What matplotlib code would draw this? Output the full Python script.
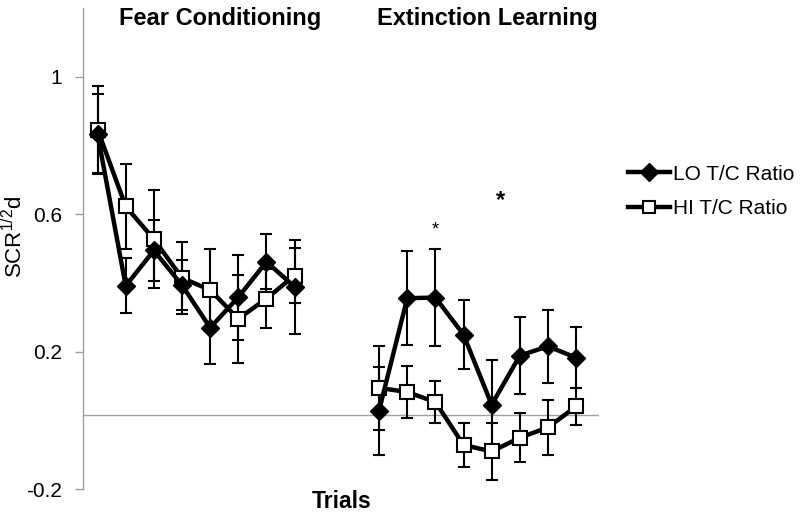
import matplotlib
matplotlib.use("Agg")
import matplotlib.pyplot as plt
from matplotlib.lines import Line2D

plt.rcParams['font.family'] = ['Liberation Sans', 'DejaVu Sans']
plt.rcParams['mathtext.fontset'] = 'custom'
plt.rcParams['mathtext.rm'] = 'Liberation Sans'
plt.rcParams['mathtext.it'] = 'Liberation Sans'
plt.rcParams['mathtext.default'] = 'regular'

# ---- data ----
phases = ["Fear Conditioning", "Extinction Learning"]
trials = [1, 2, 3, 4, 5, 6, 7, 8]
gap_categories = 2

lo_fear = [0.834, 0.392, 0.495, 0.394, 0.270, 0.359, 0.462, 0.389]
lo_fear_err = [0.115, 0.080, 0.089, 0.073, 0.104, 0.124, 0.080, 0.136]
hi_fear = [0.847, 0.623, 0.528, 0.415, 0.380, 0.296, 0.355, 0.422]
hi_fear_err = [0.126, 0.125, 0.142, 0.106, 0.118, 0.129, 0.085, 0.081]

lo_ext = [0.029, 0.356, 0.358, 0.250, 0.046, 0.189, 0.216, 0.183]
lo_ext_err = [0.128, 0.137, 0.141, 0.101, 0.129, 0.113, 0.107, 0.088]
hi_ext = [0.095, 0.083, 0.054, -0.071, -0.090, -0.050, -0.020, 0.041]
hi_ext_err = [0.122, 0.075, 0.060, 0.065, 0.083, 0.072, 0.080, 0.054]

sig_trials = [3.0, 5.3]      # extinction trial positions marked with *
sig_marks = ["*", "*"]
sig_levels = [0.555, 0.64]

series_labels = ["LO T/C Ratio", "HI T/C Ratio"]
y_ticks = [-0.2, 0.2, 0.6, 1.0]
y_tick_labels = ["-0.2", "0.2", "0.6", "1"]
baseline = 0.016

# ---- figure ----
fig = plt.figure(figsize=(8.0, 5.15), dpi=100)
ax = fig.add_axes([0.104, 0.050, 0.645, 0.934])

n = len(trials)
x_fear = list(range(n))
x_ext = [n + gap_categories + i for i in range(n)]

ax.axhline(baseline, color='#a0a0a0', lw=1.0, zorder=0)

eb_kw = dict(fmt='none', ecolor='black', elinewidth=1.5, capsize=4.5, capthick=1.5, zorder=1)
for xs, lo, loe, hi, hie in [(x_fear, lo_fear, lo_fear_err, hi_fear, hi_fear_err),
                             (x_ext, lo_ext, lo_ext_err, hi_ext, hi_ext_err)]:
    ax.errorbar(xs, hi, yerr=hie, **eb_kw)
    ax.errorbar(xs, lo, yerr=loe, **eb_kw)
    ax.plot(xs, hi, color='black', lw=3.2, marker='s', markersize=10,
            markerfacecolor='white', markeredgecolor='black', markeredgewidth=1.5, zorder=2)
    ax.plot(xs, lo, color='black', lw=3.2, marker='D', markersize=9,
            markerfacecolor='black', markeredgecolor='black', zorder=3)

# significance marks
for t, m, lvl, fs in zip(sig_trials, sig_marks, sig_levels, [13, 17]):
    ax.text(x_ext[0] + t - 1, lvl, m, ha='center', va='center', fontsize=fs,
            fontweight='bold' if fs > 13 else 'normal')

ax.set_xlim(-0.51, 17.82)
ax.set_ylim(-0.2, 1.2)
ax.set_yticks(y_ticks)
ax.set_yticklabels(y_tick_labels)
ax.tick_params(axis='y', labelsize=15, length=6, width=1, color='#a0a0a0', pad=9)
ax.set_xticks([])
for s in ['top', 'right', 'bottom']:
    ax.spines[s].set_visible(False)
ax.spines['left'].set_color('#a0a0a0')
ax.spines['left'].set_linewidth(1.0)

ax.set_ylabel('SCR$^{1/2}$d', fontsize=16)
ax.yaxis.set_label_coords(-0.108, 0.525)

# phase titles
fig.text(0.275, 0.965, phases[0], ha='center', va='center', fontsize=17, fontweight='bold')
fig.text(0.609, 0.965, phases[1], ha='center', va='center', fontsize=17, fontweight='bold')

fig.text(0.427, 0.027, "Trials", ha='center', va='center', fontsize=16.5, fontweight='bold')

handles = [Line2D([], [], color='black', lw=3.2, marker='D', markersize=9,
                  markerfacecolor='black'),
           Line2D([], [], color='black', lw=3.2, marker='s', markersize=8,
                  markerfacecolor='white', markeredgewidth=1.5)]
fig.legend(handles, series_labels, loc='center left', bbox_to_anchor=(0.785, 0.628),
           frameon=False, fontsize=15, handlelength=2.0, handletextpad=0.15,
           labelspacing=0.75, borderpad=0, borderaxespad=0)

fig.savefig('out.png', dpi=100)
